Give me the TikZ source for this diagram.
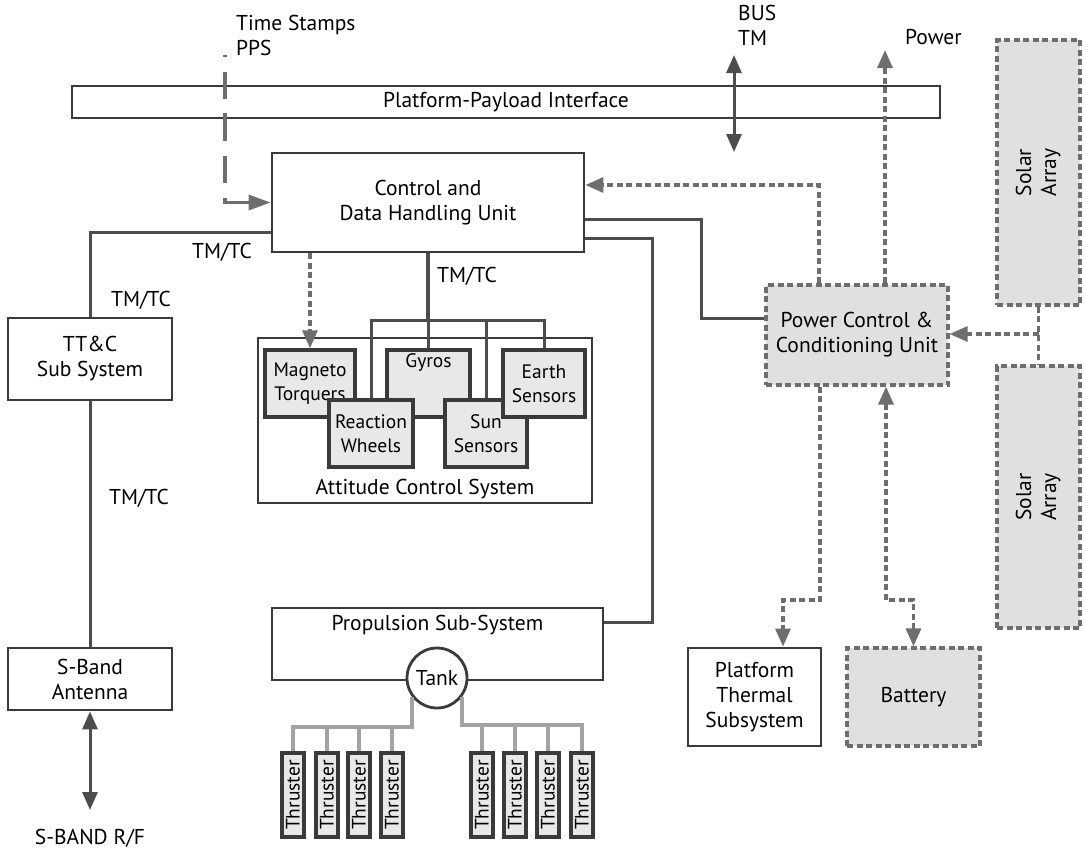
\documentclass[tikz,border=0pt]{standalone}
\usepackage{fontspec}
\setmainfont{PT Sans}
\usetikzlibrary{arrows.meta}

\definecolor{boxgray}{HTML}{3A3A3A}
\definecolor{linegray}{HTML}{4C4C4C}
\definecolor{dotgray}{HTML}{6E6E6E}
\definecolor{unitgray}{HTML}{E0E0E0}
\definecolor{sensorgray}{HTML}{E8E8E8}
\definecolor{pipegray}{HTML}{A3A3A3}

\begin{document}
\begin{tikzpicture}[
    x=1pt, y=-1pt,
    every node/.style={font=\fontsize{21.5}{25}\selectfont},
    box/.style={rectangle, draw=boxgray, line width=2.8pt, fill=white, align=center, inner sep=2pt},
    unitbox/.style={rectangle, draw=dotgray, line width=3.2pt, dash pattern=on 6pt off 3.5pt, fill=unitgray, align=center},
    sensor/.style={box, line width=3.4pt, fill=sensorgray, inner sep=0pt, font=\fontsize{19.5}{24}\selectfont},
    thruster/.style={sensor, minimum width=22, minimum height=84, font=\fontsize{19.5}{22}\selectfont},
    plain/.style={inner sep=0pt},
    line/.style={draw=linegray, line width=3pt},
    pipe/.style={draw=pipegray, line width=3.2pt},
    arrow/.style={line, -{Triangle[length=18pt, width=15pt]}},
    dblarrow/.style={line, {Triangle[length=18pt, width=15pt]}-{Triangle[length=18pt, width=15pt]}},
    dotline/.style={draw=dotgray, line width=3.2pt, dash pattern=on 6pt off 3.5pt},
    dotarrow/.style={dotline, -{Triangle[length=18pt, width=15pt]}},
    dotdbl/.style={dotline, {Triangle[length=18pt, width=15pt]}-{Triangle[length=18pt, width=15pt]}},
    tsline/.style={draw=dotgray, line width=3.4pt,
        dash pattern=on 2pt off 15pt on 27pt off 14pt on 28pt off 15pt on 27pt off 15pt on 100pt,
        -{Triangle[length=22pt, width=15pt]}}
]
    \useasboundingbox (0,0) rectangle (1085,855);

    % bus and data handling
    \node [box, line width=2.4pt, minimum width=868, minimum height=32, fill=none] (ppi) at (506,102) {Platform-Payload Interface};
    \node [box, minimum width=312, minimum height=99] (cdhu) at (428,202.5) {Control and\\Data Handling Unit};

    % power
    \node [unitbox, minimum width=182, minimum height=100] (pccu) at (857,335) {Power Control \&\\Conditioning Unit};
    \node [unitbox, minimum width=83, minimum height=265] (saTop) at (1038.5,172.5) {\rotatebox{90}{\begin{tabular}{@{}c@{}}Solar\\Array\end{tabular}}};
    \node [unitbox, minimum width=83, minimum height=262] (saBot) at (1038.5,497) {\rotatebox{90}{\begin{tabular}{@{}c@{}}Solar\\Array\end{tabular}}};
    \node [box, minimum width=133, minimum height=98] (thermal) at (754.5,697) {Platform\\Thermal\\Subsystem};
    \node [unitbox, minimum width=133, minimum height=98] (battery) at (913.5,697) {Battery};

    % TT&C
    \node [box, minimum width=164, minimum height=82] (ttc) at (90,359) {TT\&C\\Sub System};
    \node [box, minimum width=164, minimum height=62] (antenna) at (90,679) {S-Band\\Antenna};
    \coordinate (rf) at (90,810);
    \node [plain] (rflabel) at (90,838) {S-BAND R/F};

    % attitude control
    \node [box, minimum width=334, minimum height=165,
           label={[anchor=south, inner sep=5pt]south:Attitude Control System}] (acs) at (425,420.5) {};
    \node [sensor, minimum width=90, minimum height=67] (magneto) at (310,383.5) {Magneto\\Torquers};
    \node [sensor, minimum width=83, minimum height=67,
           label={[anchor=north, inner sep=5pt, font=\fontsize{19.5}{24}\selectfont]north:Gyros}] (gyros) at (428.5,383.5) {};
    \node [sensor, minimum width=84, minimum height=67] (wheels) at (371,433.5) {Reaction\\Wheels};
    \node [sensor, minimum width=82, minimum height=67] (sun) at (486,433.5) {Sun\\Sensors};
    \node [sensor, minimum width=82, minimum height=67] (earth) at (544,383.5) {Earth\\Sensors};

    % propulsion
    \node [box, minimum width=331, minimum height=72,
           label={[anchor=north, inner sep=8pt]north:Propulsion Sub-System}] (prop) at (437.5,644) {};
    \node [box, circle, minimum size=60, inner sep=0pt] (tank) at (437,678) {Tank};
    \foreach \x [count=\i] in {293,327,359,392,482,515,548,582}
        \node [thruster] (t\i) at (\x,795) {\rotatebox{90}{Thruster}};

    % labels
    \node [plain, anchor=north west, align=left] (tslabel) at (236,15) {Time Stamps\\PPS};
    \node [plain, anchor=north west, align=left] (buslabel) at (738,5) {BUS\\TM};
    \node [plain, anchor=west] (pwrlabel) at (905,37) {Power};
    \node [plain] (tmtc1) at (222,252) {TM/TC};
    \node [plain] (tmtc2) at (141,300) {TM/TC};
    \node [plain] (tmtc3) at (139,498) {TM/TC};
    \node [plain] (tmtc4) at (467,276) {TM/TC};

    % connectors
    \coordinate (ts) at (225,55);
    \coordinate (busT) at (734,55);
    \coordinate (busB) at (734,152);
    \coordinate (pwr) at (885,50);
    \draw [tsline] (ts) |- (cdhu.west);
    \draw [dblarrow] (busT) -- (busB);
    \draw [dotarrow] (pccu.north -| pwr) -- (pwr);
    \draw [dotarrow] (pccu.north -| 819,0) |- (cdhu.east |- 0,185);
    \draw [line] (cdhu.east |- 0,219) -| (701,318) -- (pccu.west |- 0,318);
    \draw [line] (cdhu.east |- 0,238) -| (652,622) -- (prop.east |- 0,622);
    \draw [dotline] (saTop.south) -- (saBot.north);
    \draw [dotarrow] (saTop.south |- 0,334) -- (pccu.east |- 0,334);
    \draw [dotarrow] (pccu.south -| 820,0) -- (820,600) -| (thermal.north -| 783,0);
    \draw [dotdbl] (pccu.south -| 886,0) -- (886,600) -| (battery.north);
    \draw [line] (ttc.north) |- (cdhu.west |- 0,232);
    \draw [line] (ttc.south) -- (antenna.north);
    \draw [dblarrow] (antenna.south) -- (rf);
    \draw [dotarrow] (cdhu.south -| magneto.north) -- (magneto.north);
    \draw [line, line width=3.6pt] (cdhu.south) -- (cdhu.south |- 0,320);
    \draw [line] (wheels.north) -- (wheels.north |- 0,320) -- (earth.north |- 0,320) -- (earth.north);
    \draw [line] (gyros.north) -- (gyros.north |- 0,320);
    \draw [line] (sun.north) -- (sun.north |- 0,320);

    % tank pipes
    \draw [pipe] (tank.-143) |- (t1.north |- 0,727) -- (t1.north);
    \draw [pipe] (tank.-37) |- (t8.north |- 0,725) -- (t8.north);
    \foreach \i in {2,3,4}
        \draw [pipe] (t\i.north) -- (t\i.north |- 0,727);
    \foreach \i in {5,6,7}
        \draw [pipe] (t\i.north) -- (t\i.north |- 0,725);
\end{tikzpicture}
\end{document}
